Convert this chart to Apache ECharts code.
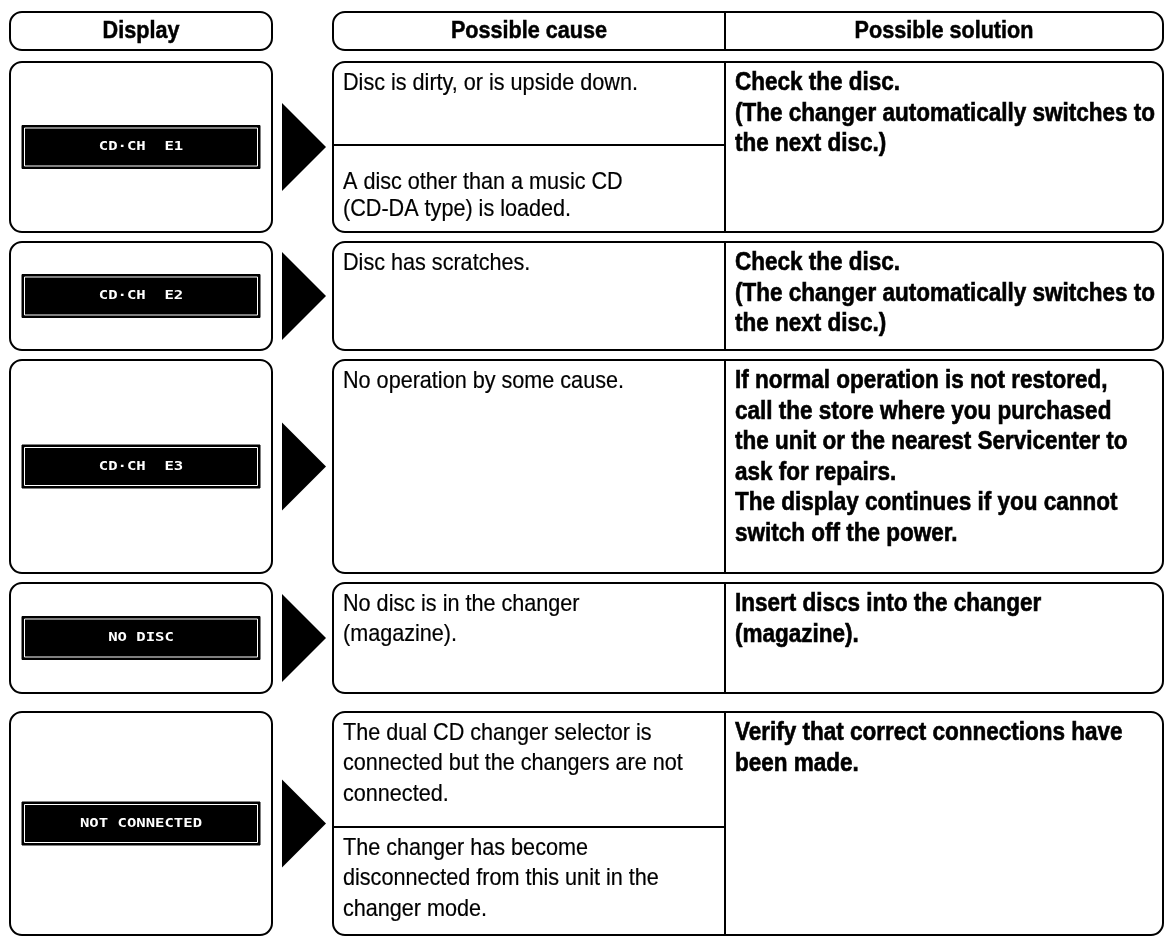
<!DOCTYPE html>
<html>
<head>
<meta charset="utf-8">
<script src="https://cdn.jsdelivr.net/npm/echarts@6/dist/echarts.min.js"></script>
<style>
html,body{margin:0;padding:0;background:#fff;}
#chart{width:1167px;height:938px;}
</style>
</head>
<body>
<div id="chart"></div>
<script>
// ---- content (data) ----
const headers = ['Display', 'Possible cause', 'Possible solution'];
const displays = ['CD\u00B7CH  E1', 'CD\u00B7CH  E2', 'CD\u00B7CH  E3', 'NO DISC', 'NOT CONNECTED'];
const causes = [
  ['Disc is dirty, or is upside down.', 'A disc other than a music CD\n(CD-DA type) is loaded.'],
  ['Disc has scratches.'],
  ['No operation by some cause.'],
  ['No disc is in the changer\n(magazine).'],
  ['The dual CD changer selector is\nconnected but the changers are not\nconnected.', 'The changer has become\ndisconnected from this unit in the\nchanger mode.']
];
const solutions = [
  'Check the disc.\n(The changer automatically switches to\nthe next disc.)',
  'Check the disc.\n(The changer automatically switches to\nthe next disc.)',
  'If normal operation is not restored,\ncall the store where you purchased\nthe unit or the nearest Servicenter to\nask for repairs.\nThe display continues if you cannot\nswitch off the power.',
  'Insert discs into the changer\n(magazine).',
  'Verify that correct connections have\nbeen made.'
];

// ---- layout (positions / sizes, kept separate from content) ----
const L = {
  headTop: 12, headBottom: 50,
  rowTop: [62, 242, 360, 583, 712],
  rowBottom: [232, 350, 573, 693, 935],
  causeSplit: [145, null, null, null, 827],
  causePad: [[6, 24], [6], [6], [6], [6, 6]],
  causeLH: [[30.5, 27], [30.5], [30.5], [30.5], [30.5, 30.5]],
  dispL: 10, dispR: 272,
  triL: 282, triR: 326, triHalf: 44,
  contL: 333, divX: 725, contR: 1163,
  lcdL: 22, lcdR: 260, lcdH: 43,
  radius: 12, padX: 10, padY: 6, lineH: 30.5
};
const FONT = '"Liberation Sans", Arial, Helvetica, sans-serif';
const LINE = {stroke: '#000', lineWidth: 2};

const els = [];
function rrect(x, y, w, h, r) {
  els.push({type: 'rect', shape: {x: x, y: y, width: w, height: h, r: r},
    style: Object.assign({fill: '#fff'}, LINE)});
}
function line(x1, y1, x2, y2) {
  els.push({type: 'line', shape: {x1: x1, y1: y1, x2: x2, y2: y2}, style: Object.assign({}, LINE)});
}
function text(x, y, str, opt) {
  const st = {text: str, fill: opt.fill || '#000', fontSize: opt.size, fontFamily: opt.family || FONT,
      fontWeight: opt.weight || 'normal', align: opt.align || 'left',
      verticalAlign: opt.valign || 'top', lineHeight: opt.lh || L.lineH};
  if (opt.thick) { st.stroke = opt.fill || '#000'; st.lineWidth = opt.thick; }
  els.push({type: 'text', x: x, y: y, scaleX: opt.sx || 1, z: 10, style: st});
}

// header
rrect(L.dispL, L.headTop, L.dispR - L.dispL, L.headBottom - L.headTop, L.radius);
rrect(L.contL, L.headTop, L.contR - L.contL, L.headBottom - L.headTop, L.radius);
line(L.divX, L.headTop, L.divX, L.headBottom);
const headMid = (L.headTop + L.headBottom) / 2;
const headCenters = [(L.dispL + L.dispR) / 2, (L.contL + L.divX) / 2, (L.divX + L.contR) / 2];
headers.forEach(function (h, i) {
  text(headCenters[i], headMid, h, {size: 24, weight: 'bold', align: 'center', valign: 'middle', sx: 0.9, lh: 26, thick: 0.5});
});

// rows
displays.forEach(function (d, i) {
  const top = L.rowTop[i], bot = L.rowBottom[i], mid = (top + bot) / 2;
  // display box
  rrect(L.dispL, top, L.dispR - L.dispL, bot - top, L.radius);
  // LCD panel
  els.push({type: 'rect', shape: {x: L.lcdL, y: mid - L.lcdH / 2, width: L.lcdR - L.lcdL, height: L.lcdH},
    style: {fill: '#000', stroke: '#000', lineWidth: 1}});
  els.push({type: 'rect', shape: {x: L.lcdL + 2.5, y: mid - L.lcdH / 2 + 2.5, width: L.lcdR - L.lcdL - 5, height: L.lcdH - 5},
    style: {fill: '#000', stroke: '#fff', lineWidth: 1}});
  text((L.lcdL + L.lcdR) / 2, mid, d, {size: 12, weight: 'bold', family: '"DejaVu Sans Mono", monospace',
    fill: '#fff', align: 'center', valign: 'middle', lh: 14, sx: 1.3});
  // arrow
  els.push({type: 'polygon', shape: {points: [[L.triL, mid - L.triHalf], [L.triR, mid], [L.triL, mid + L.triHalf]]},
    style: {fill: '#000'}});
  // content box
  rrect(L.contL, top, L.contR - L.contL, bot - top, L.radius);
  line(L.divX, top, L.divX, bot);
  const split = L.causeSplit[i];
  if (split) line(L.contL, split, L.divX, split);
  // causes
  const starts = split ? [top, split] : [top];
  causes[i].forEach(function (c, k) {
    text(L.contL + L.padX, starts[k] + L.causePad[i][k], c, {size: 24, sx: 0.9, thick: 0.2, lh: L.causeLH[i][k]});
  });
  // solution
  text(L.divX + L.padX, top + L.padY, solutions[i], {size: 25, weight: 'bold', sx: 0.9, thick: 0.6});
});

const chart = echarts.init(document.getElementById('chart'), null, {renderer: 'canvas'});
chart.setOption({
  animation: false,
  backgroundColor: '#fff',
  graphic: {elements: els}
});
</script>
</body>
</html>
